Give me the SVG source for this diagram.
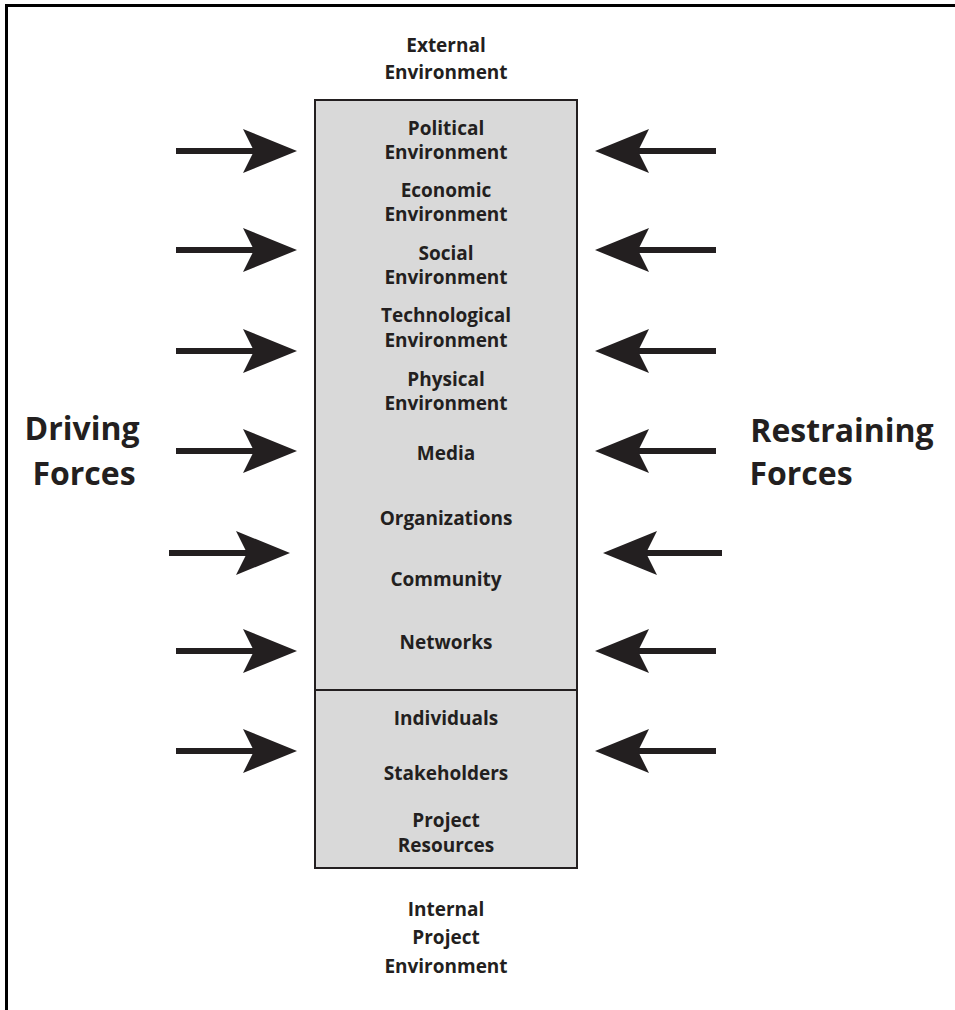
<svg xmlns="http://www.w3.org/2000/svg" width="955" height="1010" viewBox="0 0 955 1010">
  <style>
    .lbl { font-family: "Open Sans", "Liberation Sans", sans-serif; font-weight: 700; font-size: 19px; fill: #231f20; text-anchor: middle; }
    .big { font-family: "Open Sans", "Liberation Sans", sans-serif; font-weight: 700; font-size: 32px; fill: #231f20; text-anchor: middle; }
    .shaft { stroke: #231f20; stroke-width: 6; fill: none; }
    .head { fill: #231f20; stroke: none; }
    .box { fill: #d9d9d9; stroke: #231f20; stroke-width: 2; }
  </style>
  <defs>
    <!-- arrowhead pointing right, tip at origin -->
    <path id="headR" class="head" d="M0 0 L-54 -22 L-43 0 L-54 22 Z"/>
    <!-- arrowhead pointing left, tip at origin -->
    <path id="headL" class="head" d="M0 0 L54 -22 L43 0 L54 22 Z"/>
  </defs>

  <rect width="955" height="1010" fill="#ffffff"/>

  <!-- page frame: left and top rules -->
  <path d="M6.5 1010 V5.5 H955" fill="none" stroke="#000000" stroke-width="3"/>

  <!-- environment column -->
  <g id="column">
    <rect class="box" x="315" y="100" width="262" height="768"/>
    <line x1="315" y1="690" x2="577" y2="690" stroke="#231f20" stroke-width="2"/>
  </g>

  <g id="external-environment">
    <text class="lbl" x="446" y="52">External</text>
    <text class="lbl" x="446" y="79">Environment</text>
  </g>
  <g id="political">
    <text class="lbl" x="446" y="135">Political</text>
    <text class="lbl" x="446" y="159">Environment</text>
  </g>
  <g id="economic">
    <text class="lbl" x="446" y="197">Economic</text>
    <text class="lbl" x="446" y="221">Environment</text>
  </g>
  <g id="social">
    <text class="lbl" x="446" y="260">Social</text>
    <text class="lbl" x="446" y="284">Environment</text>
  </g>
  <g id="technological">
    <text class="lbl" x="446" y="322">Technological</text>
    <text class="lbl" x="446" y="347">Environment</text>
  </g>
  <g id="physical">
    <text class="lbl" x="446" y="386">Physical</text>
    <text class="lbl" x="446" y="410">Environment</text>
  </g>
  <g id="media"><text class="lbl" x="446" y="460">Media</text></g>
  <g id="organizations"><text class="lbl" x="446" y="525">Organizations</text></g>
  <g id="community"><text class="lbl" x="446" y="586">Community</text></g>
  <g id="networks"><text class="lbl" x="446" y="649">Networks</text></g>
  <g id="individuals"><text class="lbl" x="446" y="725">Individuals</text></g>
  <g id="stakeholders"><text class="lbl" x="446" y="780">Stakeholders</text></g>
  <g id="project-resources">
    <text class="lbl" x="446" y="827">Project</text>
    <text class="lbl" x="446" y="852">Resources</text>
  </g>
  <g id="internal-environment">
    <text class="lbl" x="446" y="916">Internal</text>
    <text class="lbl" x="446" y="944">Project</text>
    <text class="lbl" x="446" y="973">Environment</text>
  </g>

  <g id="driving-forces">
    <text class="big" x="82" y="440">Driving</text>
    <text class="big" x="84" y="485">Forces</text>
  </g>
  <g id="restraining-forces">
    <text class="big" x="842" y="442">Restraining</text>
    <text class="big" x="801" y="485">Forces</text>
  </g>

  <!-- force arrows -->
  <g id="connectors">
    <!-- driving (left side) -->
    <line class="shaft" x1="176" y1="151" x2="256" y2="151"/><use href="#headR" x="297" y="151"/>
    <line class="shaft" x1="176" y1="250" x2="256" y2="250"/><use href="#headR" x="297" y="250"/>
    <line class="shaft" x1="176" y1="351" x2="256" y2="351"/><use href="#headR" x="297" y="351"/>
    <line class="shaft" x1="176" y1="451" x2="256" y2="451"/><use href="#headR" x="297" y="451"/>
    <line class="shaft" x1="169" y1="553" x2="249" y2="553"/><use href="#headR" x="290" y="553"/>
    <line class="shaft" x1="176" y1="651" x2="256" y2="651"/><use href="#headR" x="297" y="651"/>
    <line class="shaft" x1="176" y1="751" x2="256" y2="751"/><use href="#headR" x="297" y="751"/>
    <!-- restraining (right side) -->
    <line class="shaft" x1="716" y1="151" x2="637" y2="151"/><use href="#headL" x="595" y="151"/>
    <line class="shaft" x1="716" y1="250" x2="637" y2="250"/><use href="#headL" x="595" y="250"/>
    <line class="shaft" x1="716" y1="351" x2="637" y2="351"/><use href="#headL" x="595" y="351"/>
    <line class="shaft" x1="716" y1="451" x2="637" y2="451"/><use href="#headL" x="595" y="451"/>
    <line class="shaft" x1="722" y1="553" x2="645" y2="553"/><use href="#headL" x="603" y="553"/>
    <line class="shaft" x1="716" y1="651" x2="637" y2="651"/><use href="#headL" x="595" y="651"/>
    <line class="shaft" x1="716" y1="751" x2="637" y2="751"/><use href="#headL" x="595" y="751"/>
  </g>
</svg>
